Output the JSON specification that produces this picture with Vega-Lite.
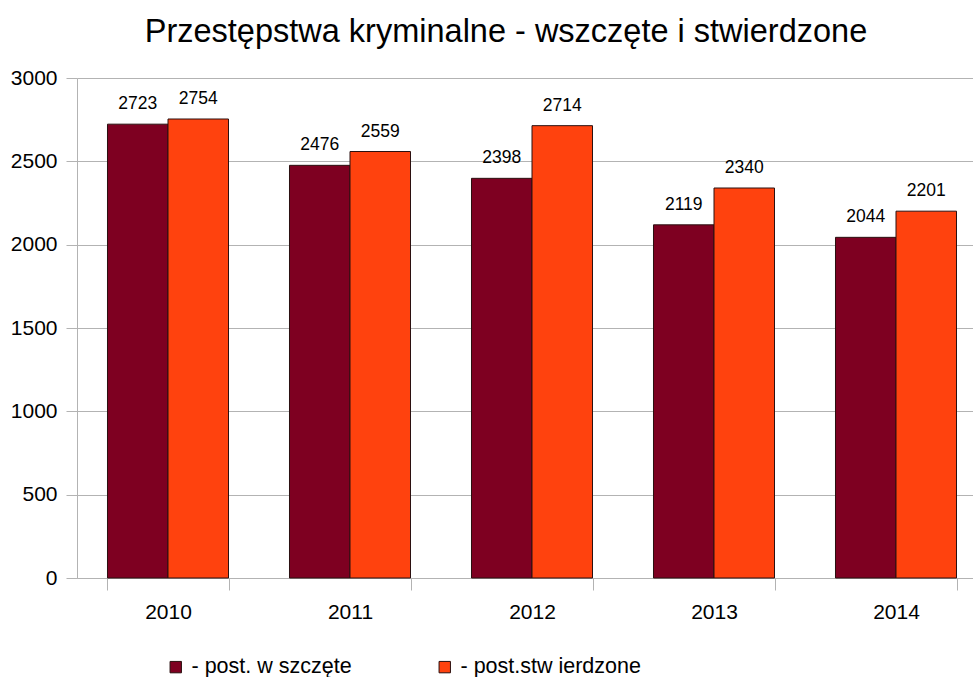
{
  "$schema": "https://vega.github.io/schema/vega-lite/v6.json",
  "autosize": {"type": "none"},
  "width": 896,
  "height": 500,
  "padding": {"left": 77, "top": 78, "right": 0, "bottom": 99},
  "background": "white",
  "config": {"font": "Liberation Sans", "view": {"stroke": null}},
  "title": {
    "text": "Przestępstwa kryminalne - wszczęte i stwierdzone",
    "font": "Liberation Sans",
    "fontSize": 32.5,
    "fontWeight": "normal",
    "color": "black",
    "anchor": "middle",
    "frame": "group",
    "dx": -19,
    "offset": 19
  },
  "data": {
    "values": [
      {"rok": "2010", "seria": "- post. w szczęte", "wartosc": 2723},
      {"rok": "2010", "seria": "- post.stw ierdzone", "wartosc": 2754},
      {"rok": "2011", "seria": "- post. w szczęte", "wartosc": 2476},
      {"rok": "2011", "seria": "- post.stw ierdzone", "wartosc": 2559},
      {"rok": "2012", "seria": "- post. w szczęte", "wartosc": 2398},
      {"rok": "2012", "seria": "- post.stw ierdzone", "wartosc": 2714},
      {"rok": "2013", "seria": "- post. w szczęte", "wartosc": 2119},
      {"rok": "2013", "seria": "- post.stw ierdzone", "wartosc": 2340},
      {"rok": "2014", "seria": "- post. w szczęte", "wartosc": 2044},
      {"rok": "2014", "seria": "- post.stw ierdzone", "wartosc": 2201}
    ]
  },
  "encoding": {
    "x": {
      "field": "rok",
      "type": "nominal",
      "title": null,
      "scale": {"range": [0, 910], "paddingInner": 0.335, "paddingOuter": 0.1675},
      "axis": {
        "labelAngle": 0,
        "labelFontSize": 21,
        "labelColor": "black",
        "labelPadding": 11,
        "tickBand": "extent",
        "tickSize": 12,
        "tickColor": "#b3b3b3",
        "domainColor": "#b3b3b3",
        "grid": false
      }
    },
    "xOffset": {
      "field": "seria",
      "type": "nominal",
      "scale": {"domain": ["- post. w szczęte", "- post.stw ierdzone"], "paddingInner": 0, "paddingOuter": 0}
    },
    "y": {
      "field": "wartosc",
      "type": "quantitative",
      "title": null,
      "scale": {"domain": [0, 3000], "nice": false},
      "axis": {
        "values": [0, 500, 1000, 1500, 2000, 2500, 3000],
        "format": "d",
        "labelFontSize": 21,
        "labelColor": "black",
        "labelPadding": 9,
        "tickSize": 11,
        "tickColor": "#b3b3b3",
        "domainColor": "#b3b3b3",
        "gridColor": "#b3b3b3",
        "grid": true
      }
    }
  },
  "layer": [
    {
      "mark": {"type": "bar", "stroke": "#2b1010", "strokeWidth": 1},
      "encoding": {
        "color": {
          "field": "seria",
          "type": "nominal",
          "scale": {"domain": ["- post. w szczęte", "- post.stw ierdzone"], "range": ["#7e0021", "#ff420e"]},
          "legend": {
            "title": null,
            "orient": "none",
            "legendX": 88,
            "legendY": 578,
            "direction": "horizontal",
            "columns": 2,
            "columnPadding": 82,
            "symbolType": "square",
            "symbolSize": 130,
            "symbolStrokeColor": "#2b1010",
            "symbolStrokeWidth": 1,
            "labelFontSize": 21.5,
            "labelLimit": 400,
            "labelColor": "black",
            "labelOffset": 5
          }
        }
      }
    },
    {
      "mark": {"type": "text", "fontSize": 17.5, "color": "black", "dy": -20, "baseline": "middle"},
      "encoding": {
        "text": {"field": "wartosc", "type": "quantitative"}
      }
    }
  ]
}
